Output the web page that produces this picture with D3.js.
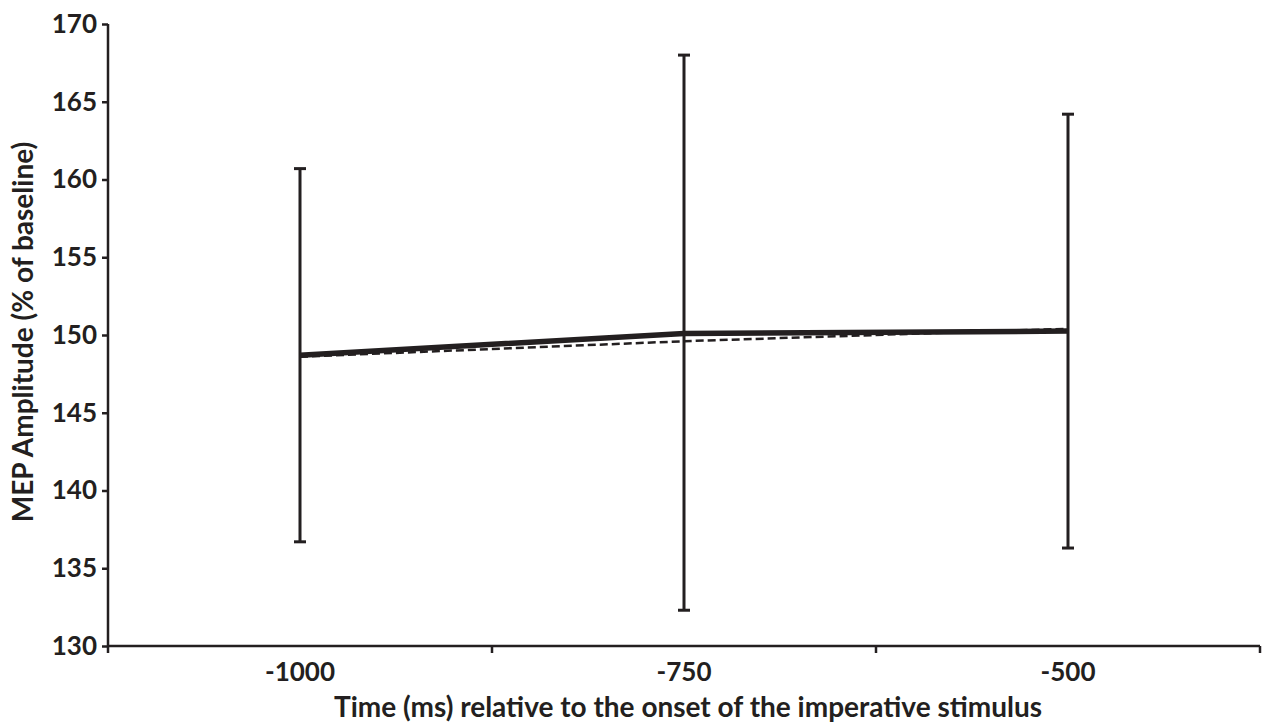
<!DOCTYPE html>
<html>
<head>
<meta charset="utf-8">
<script src="https://cdn.jsdelivr.net/npm/d3@7"></script>
<style>
  html, body { margin: 0; padding: 0; background: #ffffff; }
  svg { display: block; }
  text { font-family: Lato, "Open Sans", sans-serif; font-weight: 700; fill: #231f20; }
</style>
</head>
<body>
<svg id="chart" width="1264" height="725"></svg>
<script>
// Time points (ms relative to imperative stimulus onset)
const categories = ["-1000", "-750", "-500"];
// Mean MEP amplitude, % of baseline
const solidSeries = [148.7, 150.1, 150.25];
const dashedSeries = [148.6, 149.6, 150.4];
// Error bar limits for the mean
const errUpper = [160.7, 168.0, 164.2];
const errLower = [136.7, 132.3, 136.3];
// Y axis ticks
const yTicks = [130, 135, 140, 145, 150, 155, 160, 165, 170];

const ink = "#231f20";
const svg = d3.select("#chart");
const plotL = 108, plotR = 1260, plotT = 24, plotB = 646;

const x = d3.scaleBand().domain(categories).range([plotL, plotR]).paddingInner(0).paddingOuter(0);
const y = d3.scaleLinear().domain([130, 170]).range([plotB, plotT]);
const cx = d => x(d) + x.bandwidth() / 2;

// Y axis
const yAxis = svg.append("g")
  .attr("transform", `translate(${plotL},0)`)
  .call(d3.axisLeft(y).tickValues(yTicks).tickSize(6).tickPadding(5));
yAxis.select(".domain").attr("stroke", ink).attr("stroke-width", 2.5).attr("d", `M0,${plotT}V${plotB}`);
yAxis.selectAll(".tick line").attr("stroke", ink).attr("stroke-width", 2.5);
yAxis.selectAll(".tick text").attr("font-size", 26).attr("fill", ink).attr("font-family", "Lato, sans-serif").attr("font-weight", 700);

// X axis: labels centred on each band, tick marks on band boundaries
const xAxis = svg.append("g")
  .attr("transform", `translate(0,${plotB})`)
  .call(d3.axisBottom(x).tickSize(0).tickPadding(17));
xAxis.select(".domain").attr("stroke", ink).attr("stroke-width", 2.5).attr("d", `M${plotL},0H${plotR}`);
xAxis.selectAll(".tick text").attr("font-size", 26).attr("fill", ink).attr("font-family", "Lato, sans-serif").attr("font-weight", 700);
const boundaries = categories.map(c => x(c)).concat([plotR]);
xAxis.selectAll("line.bound").data(boundaries).enter().append("line")
  .attr("class", "bound")
  .attr("x1", d => d).attr("x2", d => d)
  .attr("y1", 0).attr("y2", 7)
  .attr("stroke", ink).attr("stroke-width", 2.5);

// Error bars
const eb = svg.append("g").attr("stroke", ink).attr("stroke-width", 3);
categories.forEach((c, i) => {
  const px = cx(c);
  eb.append("line").attr("x1", px).attr("x2", px).attr("y1", y(errUpper[i])).attr("y2", y(errLower[i]));
  eb.append("line").attr("x1", px - 6).attr("x2", px + 6).attr("y1", y(errUpper[i])).attr("y2", y(errUpper[i]));
  eb.append("line").attr("x1", px - 6).attr("x2", px + 6).attr("y1", y(errLower[i])).attr("y2", y(errLower[i]));
});

const line = d3.line().x((d, i) => cx(categories[i])).y(d => y(d));

// Dashed series
svg.append("path").datum(dashedSeries)
  .attr("d", line).attr("fill", "none")
  .attr("stroke", ink).attr("stroke-width", 2.5)
  .attr("stroke-dasharray", "8,4");

// Solid series
svg.append("path").datum(solidSeries)
  .attr("d", line).attr("fill", "none")
  .attr("stroke", ink).attr("stroke-width", 5.5)
  .attr("stroke-linejoin", "round");

// Axis titles
svg.append("text")
  .attr("x", 688).attr("y", 717)
  .attr("text-anchor", "middle").attr("font-size", 28)
  .text("Time (ms) relative to the onset of the imperative stimulus");

svg.append("text")
  .attr("transform", `translate(33,332) rotate(-90)`)
  .attr("text-anchor", "middle").attr("font-size", 28)
  .text("MEP Amplitude (% of baseline)");
</script>
</body>
</html>
